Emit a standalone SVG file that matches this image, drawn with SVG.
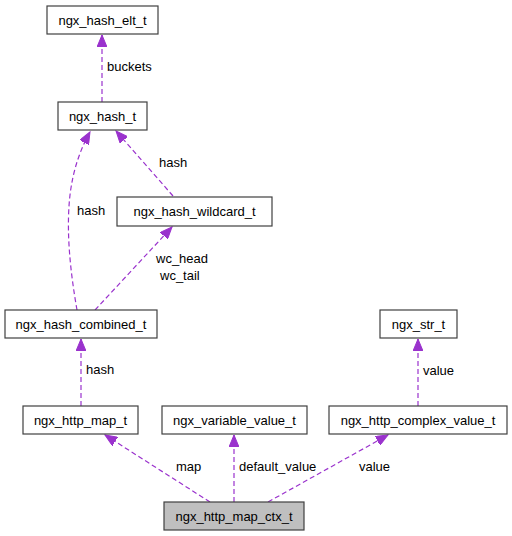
<svg xmlns="http://www.w3.org/2000/svg" width="512" height="536" viewBox="0 0 512 536">
<style>
.box{fill:#fff;stroke:#404040;stroke-width:1.2}
.sel{fill:#bfbfbf;stroke:#404040;stroke-width:1.2}
.t{font-family:"Liberation Sans",Arial,sans-serif;font-size:13px;fill:#000}
.n{text-anchor:middle}
.e{fill:none;stroke:#9a32cd;stroke-width:1.2;stroke-dasharray:5,3;marker-end:url(#ah)}
</style>
<defs>
<marker id="ah" markerUnits="userSpaceOnUse" markerWidth="13" markerHeight="10" refX="12" refY="5" orient="auto" viewBox="0 0 13 10">
<path d="M0,0 L12,5 L0,10 z" fill="#9a32cd" stroke="#9a32cd"/>
</marker>
</defs>
<rect width="512" height="536" fill="#fff"/>
<g id="edges">
<path class="e" d="M102,102 L102,35"/>
<text class="t" x="107" y="71">buckets</text>
<path class="e" d="M77,310 C70,270 66,230 70,195 C73,170 80,150 90,132"/>
<text class="t" x="77" y="215">hash</text>
<path class="e" d="M173,196 L116,131"/>
<text class="t" x="159" y="167">hash</text>
<path class="e" d="M95,310 L172,227"/>
<text class="t" x="156" y="263">wc_head</text>
<text class="t" x="160" y="280">wc_tail</text>
<path class="e" d="M81,406 L81,339"/>
<text class="t" x="86" y="374">hash</text>
<path class="e" d="M418,406 L418,339"/>
<text class="t" x="423" y="375">value</text>
<path class="e" d="M210,502 L105,435"/>
<text class="t" x="176" y="471">map</text>
<path class="e" d="M234,502 L234,435"/>
<text class="t" x="239" y="471">default_value</text>
<path class="e" d="M268,502 L388,435"/>
<text class="t" x="359" y="471">value</text>
</g>
<g id="ngx_hash_elt_t"><rect class="box" x="47" y="6" width="111" height="28"/><text class="t n" x="102.5" y="24.5">ngx_hash_elt_t</text></g>
<g id="ngx_hash_t"><rect class="box" x="58" y="102" width="89" height="28"/><text class="t n" x="102.5" y="120.5">ngx_hash_t</text></g>
<g id="ngx_hash_wildcard_t"><rect class="box" x="117" y="197" width="155" height="29"/><text class="t n" x="194.5" y="216">ngx_hash_wildcard_t</text></g>
<g id="ngx_hash_combined_t"><rect class="box" x="5" y="310" width="152" height="28"/><text class="t n" x="81" y="328.5">ngx_hash_combined_t</text></g>
<g id="ngx_str_t"><rect class="box" x="380" y="310" width="77" height="28"/><text class="t n" x="418.5" y="328.5">ngx_str_t</text></g>
<g id="ngx_http_map_t"><rect class="box" x="23" y="406" width="115" height="28"/><text class="t n" x="80.5" y="424.5">ngx_http_map_t</text></g>
<g id="ngx_variable_value_t"><rect class="box" x="162" y="406" width="145" height="28"/><text class="t n" x="234.5" y="424.5">ngx_variable_value_t</text></g>
<g id="ngx_http_complex_value_t"><rect class="box" x="329" y="406" width="178" height="28"/><text class="t n" x="418" y="424.5">ngx_http_complex_value_t</text></g>
<g id="ngx_http_map_ctx_t"><rect class="sel" x="164" y="502" width="140" height="28"/><text class="t n" x="234" y="520.5">ngx_http_map_ctx_t</text></g>
</svg>
